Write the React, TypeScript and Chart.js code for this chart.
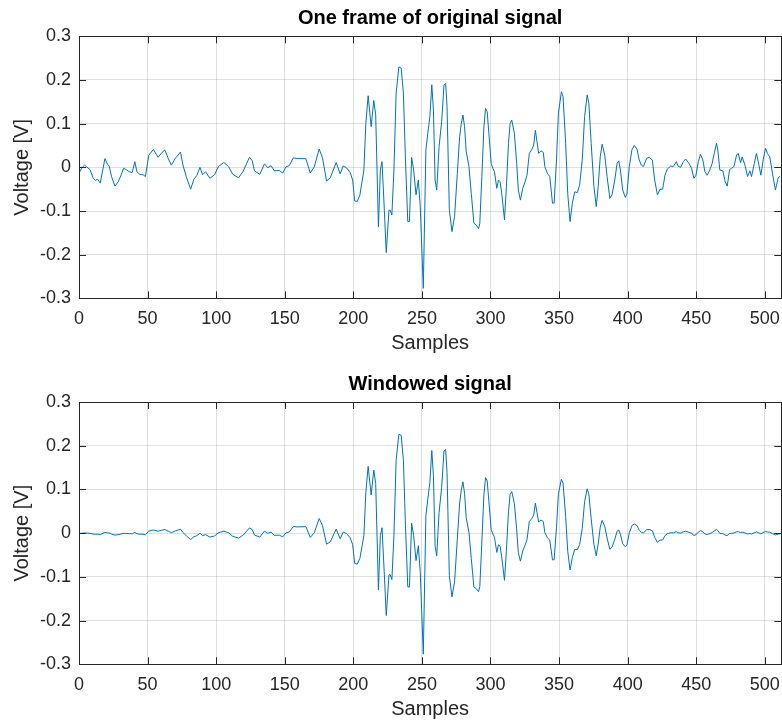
import React, { useEffect, useRef } from "react";
import { Chart, registerables } from "chart.js";

Chart.register(...registerables);

// ---- Data (sample index, voltage) ----
const sampleIdx: number[] = [
  0, 2.4, 4, 8, 10.4, 12, 13.5, 15.5, 18.9, 20.8, 22, 23.7, 26.2, 28.6, 30.5, 32.5, 34.7, 36.7, 38.8, 40.7,
  42.2, 44.3, 46.7, 48.4, 50.9, 54.2, 57.6, 60, 62.5, 65, 67.3, 70.3, 74, 75.8, 78.2, 81.4, 83.8, 85.8, 88.2, 90.1,
  92.3, 95.4, 98.8, 101.7, 105.6, 109, 112.1, 116.3, 119.5, 124.3, 126.3, 127.9, 131.8, 135.2, 137.6, 140, 142.4, 146, 148.5, 150.9,
  153.3, 156.3, 159, 161.8, 165.4, 168.6, 171.5, 175.1, 177.5, 180.5, 183.2, 187.5, 190.4, 192.6, 195, 197.7, 199.5, 201, 202.9, 204.8,
  207.7, 209.1, 210.8, 213, 214.9, 216.3, 218.3, 219.7, 220.9, 222.6, 224, 226, 226.9, 228.1, 229.6, 231.2, 233.2, 234.9, 236.5, 238,
  239.7, 240.9, 242.5, 244, 245.7, 247.4, 248.8, 251, 252.9, 254.3, 255.8, 257.2, 258.4, 259.6, 260.8, 262.5, 264.4, 266.1, 267.3, 268.3,
  270, 271.9, 273.8, 275.8, 277.5, 278.7, 279.9, 281.1, 282.3, 284.3, 286, 287.9, 289.6, 291.3, 292.2, 293.7, 295.2, 296.4, 297.6, 298.8,
  300.5, 301.7, 302.9, 304.6, 305.8, 307, 308.2, 310.2, 311.6, 313.1, 314.3, 315.5, 317.4, 319.1, 320.3, 321.8, 323.5, 325.2, 326.6, 328.3,
  330, 331.5, 332.7, 333.9, 335.1, 336.8, 338.5, 339.6, 341.5, 343.2, 345.2, 346.4, 348.1, 349.5, 351.7, 352.9, 354.8, 356.3, 358, 359.7,
  361.4, 363.3, 365, 366.9, 368.6, 370.5, 371.7, 373.4, 375.4, 377.1, 378.5, 380, 381.4, 383.3, 385, 387, 388.6, 390.6, 392.3, 393.5,
  394.7, 396.4, 398.3, 399.5, 401.2, 403.1, 404.8, 406.8, 408.4, 410, 411.5, 413.9, 415.6, 418, 419.7, 421.7, 423.6, 425.5, 427.2, 428.9,
  431.4, 433.3, 435.5, 436.7, 438.6, 440.6, 442.3, 444.7, 446.6, 448.3, 449.8, 451.5, 453.1, 454.8, 456.3, 458, 459.9, 461.6, 463.1, 464.8,
  465.7, 467.2, 469.4, 471.1, 472.6, 474.3, 475.8, 477.5, 479.4, 480.6, 482.3, 483.5, 485.5, 487.4, 489.1, 490.3, 492.3, 493.9, 495.2, 497.1,
  498.8, 500.5, 501.9, 503.6, 505.6, 507.7, 509.7, 511,
];

const originalVoltage: number[] = [
  -0.013, 0.0, 0.005, -0.005, -0.025, -0.03, -0.027, -0.036, 0.02, 0.007, 0.003, -0.021, -0.043, -0.033, -0.019, -0.002, -0.006, -0.01, -0.012, 0.013,
  -0.01, -0.016, -0.017, -0.021, 0.028, 0.041, 0.023, 0.032, 0.04, 0.021, 0.005, 0.021, 0.035, 0.005, -0.021, -0.05, -0.027, -0.019, 0.0, -0.017,
  -0.01, -0.025, -0.017, 0.002, 0.011, 0.002, -0.016, -0.024, -0.01, 0.023, 0.015, -0.008, -0.016, 0.008, -0.001, 0.004, -0.008, -0.007, -0.013, 0.001,
  0.004, 0.022, 0.02, 0.02, 0.02, -0.013, 0.001, 0.042, 0.022, -0.031, -0.024, 0.011, -0.015, 0.003, -0.001, -0.012, -0.029, -0.077, -0.078, -0.063,
  -0.006, 0.1, 0.164, 0.093, 0.153, 0.12, -0.136, -0.006, 0.013, -0.098, -0.195, -0.098, -0.098, -0.109, -0.006, 0.17, 0.23, 0.227, 0.17, 0.017,
  -0.124, -0.124, 0.023, -0.006, -0.063, -0.029, -0.09, -0.277, 0.04, 0.078, 0.116, 0.189, 0.131, -0.029, -0.052, 0.047, 0.105, 0.189, 0.192, 0.14,
  -0.098, -0.147, -0.113, -0.014, 0.07, 0.1, 0.12, 0.093, 0.036, 0.002, -0.06, -0.128, -0.132, -0.14, -0.128, -0.021, 0.093, 0.135, 0.127, 0.078,
  0.009, -0.002, -0.01, -0.048, -0.029, -0.033, -0.06, -0.12, -0.044, 0.055, 0.1, 0.108, 0.078, 0.009, -0.052, -0.075, -0.048, -0.033, -0.018, 0.032,
  0.04, 0.051, 0.085, 0.059, 0.032, 0.038, 0.034, 0.002, -0.014, -0.021, -0.082, -0.082, 0.017, 0.124, 0.173, 0.162, 0.055, -0.06, -0.124, -0.082,
  -0.056, -0.058, -0.04, 0.017, 0.116, 0.166, 0.147, 0.055, -0.044, -0.09, -0.044, 0.024, 0.053, 0.028, -0.021, -0.071, -0.063, -0.029, 0.009, 0.015,
  -0.006, -0.052, -0.069, -0.06, 0.002, 0.04, 0.05, 0.042, 0.017, 0.005, 0.002, 0.021, 0.023, 0.017, -0.029, -0.063, -0.05, -0.05, -0.018, -0.004,
  0.003, 0.002, 0.013, 0.003, 0.0, 0.013, 0.019, 0.009, -0.002, -0.025, -0.018, 0.013, 0.03, 0.017, -0.01, -0.018, -0.006, 0.009, 0.032, 0.055,
  0.04, -0.006, -0.008, -0.033, -0.043, -0.005, -0.002, 0.002, 0.028, 0.032, 0.011, 0.024, 0.005, -0.021, -0.008, -0.021, 0.009, 0.032, 0.013, -0.018,
  0.017, 0.044, 0.032, 0.024, -0.014, -0.052, -0.025, -0.02,
];

const frameLength = 512;
const xTickValues: number[] = [0, 50, 100, 150, 200, 250, 300, 350, 400, 450, 500];
const yTickValues: number[] = [-0.3, -0.2, -0.1, 0, 0.1, 0.2, 0.3];
const titles: string[] = ["One frame of original signal", "Windowed signal"];
const xLabel = "Samples";
const yLabel = "Voltage [V]";

// Hamming window applied to the frame (windowed signal = original * window)
const hamming = (n: number) => 0.54 - 0.46 * Math.cos((2 * Math.PI * n) / (frameLength - 1));
const windowedVoltage: number[] = originalVoltage.map((v, i) => v * hamming(sampleIdx[i]));

const FONT = '"Liberation Sans", Arial, Helvetica, sans-serif';
const TEXT = "#262626";
const LINE = "#0072BD";

function makeBoxPlugin(title: string) {
  return {
    id: "matlabBox",
    afterDatasetsDraw(chart: any) {
      const { ctx, chartArea } = chart;
      const { left, right, top, bottom } = chartArea;
      const xs = chart.scales.x;
      const ys = chart.scales.y;
      ctx.save();
      ctx.strokeStyle = TEXT;
      ctx.lineWidth = 1;
      ctx.beginPath();
      const tl = 7;
      for (const t of xTickValues) {
        const px = Math.round(xs.getPixelForValue(t)) + 0.5;
        ctx.moveTo(px, bottom);
        ctx.lineTo(px, bottom - tl);
        ctx.moveTo(px, top);
        ctx.lineTo(px, top + tl);
      }
      for (const t of yTickValues) {
        const py = Math.round(ys.getPixelForValue(t)) + 0.5;
        ctx.moveTo(left, py);
        ctx.lineTo(left + tl, py);
        ctx.moveTo(right, py);
        ctx.lineTo(right - tl, py);
      }
      ctx.stroke();
      const l = Math.round(left) + 0.5;
      const t0 = Math.round(top) + 0.5;
      const r = Math.round(right) + 0.5;
      const b = Math.round(bottom) + 0.5;
      ctx.strokeRect(l, t0, r - l, b - t0);
      ctx.fillStyle = "#000000";
      ctx.font = `bold 20px ${FONT}`;
      ctx.textAlign = "center";
      ctx.textBaseline = "middle";
      ctx.fillText(title, (left + right) / 2, top - 17.5);
      ctx.restore();
    },
  };
}

function makeConfig(values: number[], title: string, padTop: number, xAxisHeight: number, titlePadBottom: number): any {
  return {
    type: "line",
    data: {
      datasets: [
        {
          data: sampleIdx.map((x, i) => ({ x, y: values[i] })),
          borderColor: LINE,
          borderWidth: 1,
          pointRadius: 0,
          tension: 0,
          fill: false,
        },
      ],
    },
    options: {
      animation: false,
      responsive: false,
      maintainAspectRatio: false,
      layout: { padding: { top: padTop, left: 0, right: 6.5, bottom: 0 } },
      plugins: {
        legend: { display: false },
        tooltip: { enabled: false },
        title: { display: false },
      },
      scales: {
        x: {
          type: "linear",
          min: 0,
          max: 512,
          afterBuildTicks: (scale: any) => {
            scale.ticks = xTickValues.map((v) => ({ value: v }));
          },
          afterFit: (scale: any) => {
            scale.height = xAxisHeight;
          },
          ticks: {
            color: TEXT,
            font: { family: FONT, size: 18 },
            padding: 10,
            maxRotation: 0,
            autoSkip: false,
            callback: (v: any) => String(v),
          },
          grid: { color: "rgba(38,38,38,0.15)", drawTicks: false, lineWidth: 1 },
          border: { display: false },
          title: {
            display: true,
            text: xLabel,
            color: TEXT,
            font: { family: FONT, size: 20 },
            padding: { top: 0, bottom: titlePadBottom },
          },
        },
        y: {
          type: "linear",
          min: -0.3,
          max: 0.3,
          afterBuildTicks: (scale: any) => {
            scale.ticks = yTickValues.map((v) => ({ value: v }));
          },
          afterFit: (scale: any) => {
            scale.width = 79;
          },
          ticks: {
            color: TEXT,
            font: { family: FONT, size: 18 },
            padding: 8,
            autoSkip: false,
            callback: (v: any) => {
              const n = Math.round(Number(v) * 10) / 10;
              return n === 0 ? "0" : String(n);
            },
          },
          grid: { color: "rgba(38,38,38,0.15)", drawTicks: false, lineWidth: 1 },
          border: { display: false },
          title: {
            display: true,
            text: yLabel,
            color: TEXT,
            font: { family: FONT, size: 20 },
            padding: { top: 10, bottom: 0 },
          },
        },
      },
    },
    plugins: [makeBoxPlugin(title)],
  };
}

export default function App() {
  const topRef = useRef<HTMLCanvasElement | null>(null);
  const botRef = useRef<HTMLCanvasElement | null>(null);

  useEffect(() => {
    const charts: Chart[] = [];
    if (topRef.current) {
      charts.push(new Chart(topRef.current, makeConfig(originalVoltage, titles[0], 36.3, 63.6, 6.5)));
    }
    if (botRef.current) {
      charts.push(new Chart(botRef.current, makeConfig(windowedVoltage, titles[1], 40, 57.7, 0.5)));
    }
    return () => {
      charts.forEach((c) => c.destroy());
    };
  }, []);

  return (
    <div
      style={{
        position: "fixed",
        left: 0,
        top: 0,
        width: 782,
        height: 722,
        overflow: "hidden",
        background: "#ffffff",
      }}
    >
      <canvas
        ref={topRef}
        width={790}
        height={362}
        style={{ position: "absolute", left: 0, top: 0, width: 790, height: 362 }}
      />
      <canvas
        ref={botRef}
        width={790}
        height={360}
        style={{ position: "absolute", left: 0, top: 362, width: 790, height: 360 }}
      />
    </div>
  );
}
